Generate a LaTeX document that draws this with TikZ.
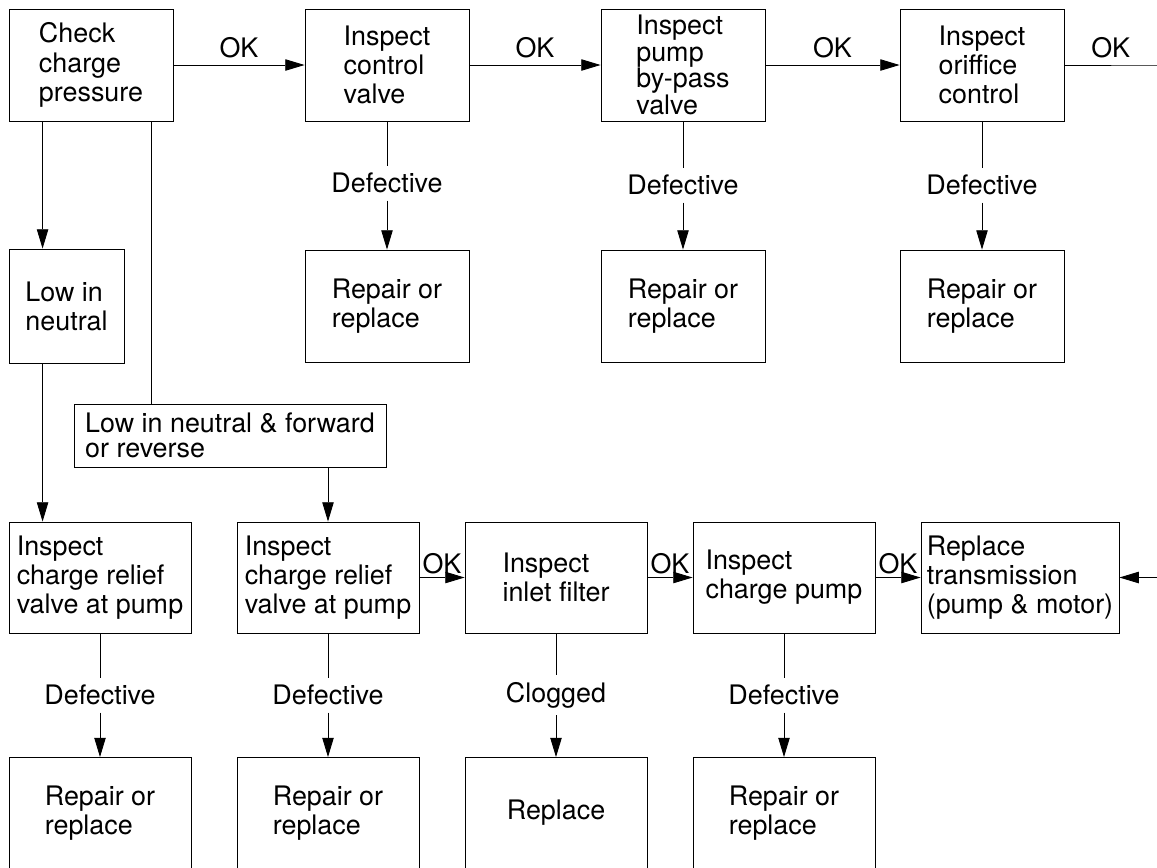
\documentclass[tikz,border=0pt]{standalone}
\usepackage{fontspec}
\setmainfont{TeX Gyre Heros}
\usepackage{tikz}
\usetikzlibrary{arrows.meta, positioning}

\begin{document}
\begin{tikzpicture}[
  x=0.02cm, y=-0.02cm,
  box/.style={draw, minimum width=3.28cm, minimum height=2.24cm, align=left, inner sep=2pt, font=\fontsize{15.3}{16.6}\selectfont},
  wbox/.style={box, minimum width=3.64cm, minimum height=2.22cm},
  lbl/.style={font=\fontsize{15.3}{16.6}\selectfont, inner sep=4pt},
  arr/.style={-{Triangle[length=11pt,width=6.5pt]}},
  line width=0.5pt
]
\useasboundingbox (0,0) rectangle (1157,867);
\clip (0,0) rectangle (1157,867);
% top row
\node[box] (check)  at (91,65)  {Check\\charge\\pressure};
\node[box] (ctrl)   at (387,65) {Inspect\\control\\valve};
\node[box, font=\fontsize{15.3}{15.2}\selectfont] (bypass) at (683,65) {Inspect\\pump\\by-pass\\valve};
\node[box] (orif)   at (982,65) {Inspect\\oriffice\\control};
\node[box] (rep1) at (387,306) {Repair or\\replace};
\node[box] (rep2) at (683,306) {Repair or\\replace};
\node[box] (rep3) at (982,306) {Repair or\\replace};
\node[lbl] (def1) at (387,183) {Defective};
\node[lbl] (def2) at (683,185) {Defective};
\node[lbl] (def3) at (982,185) {Defective};
\node[box, minimum width=2.3cm, minimum height=2.28cm] (low) at (66.5,306) {Low in\\neutral};
\node[box, minimum width=6.24cm, minimum height=1.26cm, font=\fontsize{15.3}{14.4}\selectfont] (lowfwd) at (230,435.5) {Low in neutral \& forward\\or reverse};
% lower rows
\node[wbox] (relief1) at (100,577.5) {Inspect\\charge relief\\valve at pump};
\node[wbox] (relief2) at (328,577.5) {Inspect\\charge relief\\valve at pump};
\node[wbox] (filter)  at (556,577.5) {Inspect\\inlet filter};
\node[wbox] (pump)    at (784,577.5) {Inspect\\charge pump};
\node[wbox, minimum width=3.96cm] (trans) at (1020,577.5) {Replace\\transmission\\(pump \& motor)};
\node[lbl] (def4) at (100,695) {Defective};
\node[lbl] (def5) at (328,695) {Defective};
\node[lbl] (clog) at (556,695) {Clogged};
\node[lbl] (def6) at (784,695) {Defective};
\node[wbox] (rep4) at (100,813) {Repair or\\replace};
\node[wbox] (rep5) at (328,813) {Repair or\\replace};
\node[wbox] (repl) at (556,813) {Replace};
\node[wbox] (rep6) at (784,813) {Repair or\\replace};
% OK chain
\draw[arr] (check) -- node[lbl, above]{OK} (ctrl);
\draw[arr] (ctrl) -- node[lbl, above]{OK} (bypass);
\draw[arr] (bypass) -- node[lbl, above]{OK} (orif);
\coordinate (edge) at (1157,65);
\draw[arr] (orif.east) -- node[lbl, above]{OK} (edge) -- ++(30,0) |- (trans.east);
\draw[arr] (relief2) -- node[lbl, above, inner sep=2pt]{OK} (filter);
\draw[arr] (filter) -- node[lbl, above, inner sep=2pt]{OK} (pump);
\draw[arr] (pump) -- node[lbl, above, inner sep=2pt]{OK} (trans);
% defective branches
\draw (ctrl) -- (def1);   \draw[arr] (def1) -- (rep1);
\draw (bypass) -- (def2); \draw[arr] (def2) -- (rep2);
\draw (orif) -- (def3);   \draw[arr] (def3) -- (rep3);
\draw (relief1) -- (def4); \draw[arr] (def4) -- (rep4);
\draw (relief2) -- (def5); \draw[arr] (def5) -- (rep5);
\draw (filter) -- (clog);  \draw[arr] (clog) -- (repl);
\draw (pump) -- (def6);    \draw[arr] (def6) -- (rep6);
% low pressure branches
\coordinate (lp) at ([xshift=0.68cm]check.south west);
\coordinate (fp) at ([xshift=2.86cm]check.south west);
\draw[arr] (lp) -- (lp |- low.north);
\draw[arr] (lp |- low.south) -- (lp |- relief1.north);
\draw (fp) -- (fp |- lowfwd.north);
\draw[arr] (lowfwd.south -| relief2.north) -- (relief2.north);
\end{tikzpicture}
\end{document}
